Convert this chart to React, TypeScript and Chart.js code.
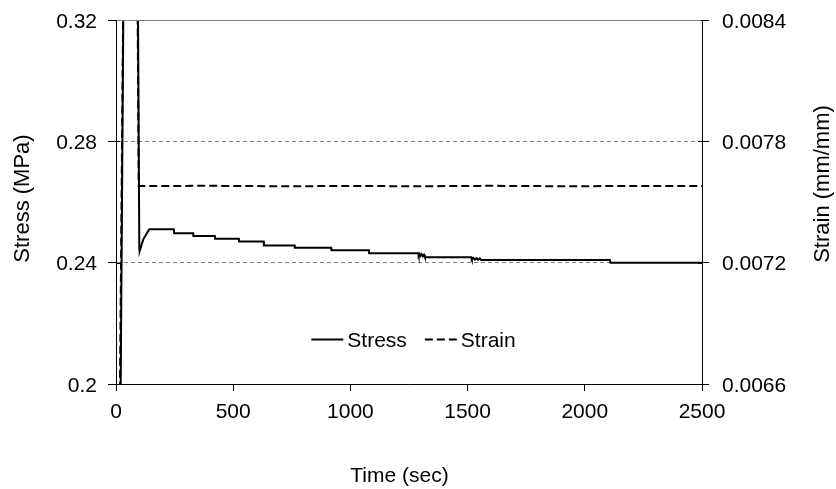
import React, { useEffect, useRef } from "react";
import { Chart, registerables } from "chart.js";

Chart.register(...registerables);

// ---- data ----
const stressTime = [
  0, 16, 35, 60, 93, 99.5, 101, 116, 131, 142, 247, 248, 329, 330, 422, 423,
  524, 525, 630, 631, 762, 763, 918, 919, 1079, 1080, 1289, 1291, 1295, 1299,
  1304, 1309, 1314, 1318, 1515, 1518, 1524, 1531, 1538, 1545, 1552, 1558,
  2107, 2109, 2500,
];
const stressValues = [
  0.02, 0.156, 0.363, 0.4, 0.333, 0.2445, 0.2438, 0.2476, 0.2496, 0.251,
  0.251, 0.2497, 0.2497, 0.2488, 0.2488, 0.2479, 0.2479, 0.247, 0.247, 0.2457,
  0.2457, 0.2449, 0.2449, 0.2441, 0.2441, 0.2431, 0.2431, 0.2424, 0.2429,
  0.2422, 0.2428, 0.2421, 0.2426, 0.2418, 0.2418, 0.2411, 0.2416, 0.2410,
  0.2415, 0.2410, 0.2414, 0.2409, 0.2409, 0.24, 0.24,
];
const strainTime = [
  0, 16, 35, 60, 92, 97, 400, 700, 1000, 1300, 1600, 1900, 2200, 2500,
];
const strainValues = [
  0.0058, 0.006446, 0.009055, 0.0096, 0.00848, 0.007579, 0.00758, 0.007578,
  0.007579, 0.007578, 0.00758, 0.007578, 0.007579, 0.007579,
];

const seriesLabels = ["Stress", "Strain"];
const timeTicks = [0, 500, 1000, 1500, 2000, 2500];
const stressTicks = [0.2, 0.24, 0.28, 0.32];
const strainTicks = [0.0066, 0.0072, 0.0078, 0.0084];
const xTitle = "Time (sec)";
const yTitle = "Stress (MPa)";
const y1Title = "Strain (mm/mm)";

const FONT = '"Liberation Sans", Arial, sans-serif';

const framePlugin = {
  id: "frame",
  afterDraw(chart: any) {
    const { ctx, chartArea } = chart;
    const { left, right } = chartArea;
    const ty = Math.round(chart.scales.y.getPixelForValue(stressTicks[stressTicks.length - 1])) + 0.5;
    ctx.save();
    ctx.strokeStyle = "#808080";
    ctx.lineWidth = 1;
    ctx.beginPath();
    ctx.moveTo(left + 1, ty);
    ctx.lineTo(right - 1, ty);
    ctx.stroke();
    ctx.restore();
  },
  beforeDatasetsDraw(chart: any) {
    const { ctx, chartArea, scales } = chart;
    const { left, right } = chartArea;
    ctx.save();
    ctx.strokeStyle = "#000";
    ctx.lineWidth = 1;
    ctx.beginPath();
    scales.y.ticks.forEach((t: any) => {
      const py = Math.round(scales.y.getPixelForValue(t.value)) + 0.5;
      ctx.moveTo(left, py);
      ctx.lineTo(left + 4, py);
    });
    scales.y1.ticks.forEach((t: any) => {
      const py = Math.round(scales.y1.getPixelForValue(t.value)) + 0.5;
      ctx.moveTo(right - 4, py);
      ctx.lineTo(right, py);
    });
    ctx.stroke();
    ctx.restore();
  },
};

const textPlugin = {
  id: "texts",
  afterDraw(chart: any) {
    const { ctx, chartArea } = chart;
    ctx.save();
    ctx.fillStyle = "#000";
    ctx.textBaseline = "alphabetic";
    ctx.textAlign = "center";
    // x title
    ctx.font = `21px ${FONT}`;
    ctx.fillText(xTitle, 399.5, 481.5);
    // left title
    ctx.font = `22px ${FONT}`;
    ctx.save();
    ctx.translate(29, 198.5);
    ctx.rotate(-Math.PI / 2);
    ctx.fillText(yTitle, 0, 0);
    ctx.restore();
    // right title
    ctx.save();
    ctx.translate(829, 184);
    ctx.rotate(-Math.PI / 2);
    ctx.fillText(y1Title, 0, 0);
    ctx.restore();

    // legend inside plot area
    ctx.font = `21px ${FONT}`;
    const sample = 32;
    const gap = 4;
    const itemGap = 18;
    const items = chart.data.datasets.map((ds: any) => ({
      label: ds.label,
      dash: ds.borderDash || [],
      width: ds.borderWidth,
      color: ds.borderColor,
    }));
    const widths = items.map(
      (it: any) => sample + gap + ctx.measureText(it.label).width
    );
    const total =
      widths.reduce((a: number, b: number) => a + b, 0) +
      itemGap * (items.length - 1);
    let x = (chartArea.left + chartArea.right) / 2 - total / 2 + 4.5;
    const y = Math.round(chartArea.top + chartArea.height * 0.876) + 0.5;
    ctx.textAlign = "left";
    ctx.textBaseline = "middle";
    items.forEach((it: any, i: number) => {
      ctx.save();
      ctx.strokeStyle = it.color;
      ctx.lineWidth = it.width;
      ctx.setLineDash(it.dash);
      ctx.beginPath();
      ctx.moveTo(x, y);
      ctx.lineTo(x + sample, y);
      ctx.stroke();
      ctx.restore();
      ctx.fillText(it.label, x + sample + gap, y + 1.5);
      x += widths[i] + itemGap;
    });
    ctx.restore();
  },
};

const fitY = (w: number) => (s: any) => {
  s.width = w;
  s.paddingTop = 0;
  s.paddingBottom = 0;
};

export default function App() {
  const ref = useRef<HTMLCanvasElement | null>(null);

  useEffect(() => {
    if (!ref.current) return;
    Chart.defaults.font.family = FONT;
    const chart = new Chart(ref.current, {
      type: "line",
      data: {
        datasets: [
          {
            label: seriesLabels[0],
            data: stressTime.map((t, i) => ({ x: t, y: stressValues[i] })),
            yAxisID: "y",
            borderColor: "#000",
            borderWidth: 2,
            pointRadius: 0,
            tension: 0,
            fill: false,
          },
          {
            label: seriesLabels[1],
            data: strainTime.map((t, i) => ({ x: t, y: strainValues[i] })),
            yAxisID: "y1",
            borderColor: "#000",
            borderWidth: 2,
            borderDash: [8, 4],
            pointRadius: 0,
            tension: 0,
            fill: false,
          },
        ],
      },
      options: {
        responsive: false,
        animation: false,
        devicePixelRatio: 1,
        layout: { padding: { top: 20, left: 0, right: 0, bottom: 0 } },
        plugins: {
          legend: { display: false },
          tooltip: { enabled: false },
        },
        scales: {
          x: {
            type: "linear",
            min: 0,
            max: 2500,
            afterBuildTicks: (s: any) => {
              s.ticks = timeTicks.map((v) => ({ value: v }));
            },
            afterFit: (s: any) => {
              s.height = 105;
              s.paddingLeft = 0;
              s.paddingRight = 0;
            },
            ticks: {
              color: "#000",
              font: { size: 21 },
              padding: 9,
              maxRotation: 0,
              autoSkip: false,
              callback: (v: any) => String(v),
            },
            grid: {
              drawOnChartArea: false,
              drawTicks: true,
              tickLength: 7,
              tickColor: "#000",
            },
            border: { color: "#000", width: 1 },
          },
          y: {
            type: "linear",
            position: "left",
            min: 0.2,
            max: 0.32,
            afterBuildTicks: (s: any) => {
              s.ticks = stressTicks.map((v) => ({ value: v }));
            },
            afterFit: fitY(116),
            ticks: {
              color: "#000",
              font: { size: 21 },
              padding: 11,
              labelOffset: 2,
              autoSkip: false,
              callback: (v: any) => String(v),
            },
            grid: {
              color: "#808080",
              lineWidth: 1,
              drawTicks: true,
              tickLength: 8,
              tickColor: "#000",
              tickBorderDash: [],
            },
            border: { color: "#000", width: 1, dash: [4, 3] },
          },
          y1: {
            type: "linear",
            position: "right",
            min: 0.0066,
            max: 0.0084,
            afterBuildTicks: (s: any) => {
              s.ticks = strainTicks.map((v) => ({ value: v }));
            },
            afterFit: fitY(134),
            ticks: {
              color: "#000",
              font: { size: 21 },
              padding: 13,
              labelOffset: 2,
              autoSkip: false,
              callback: (v: any) => String(v),
            },
            grid: {
              drawOnChartArea: false,
              drawTicks: true,
              tickLength: 7,
              tickColor: "#000",
            },
            border: { color: "#000", width: 1 },
          },
        },
      },
      plugins: [framePlugin, textPlugin],
    } as any);
    return () => chart.destroy();
  }, []);

  return (
    <div style={{ position: "fixed", left: 0, top: 0, width: 836, height: 489, background: "#fff" }}>
      <canvas ref={ref} width={836} height={489} style={{ width: 836, height: 489, display: "block" }} />
    </div>
  );
}
